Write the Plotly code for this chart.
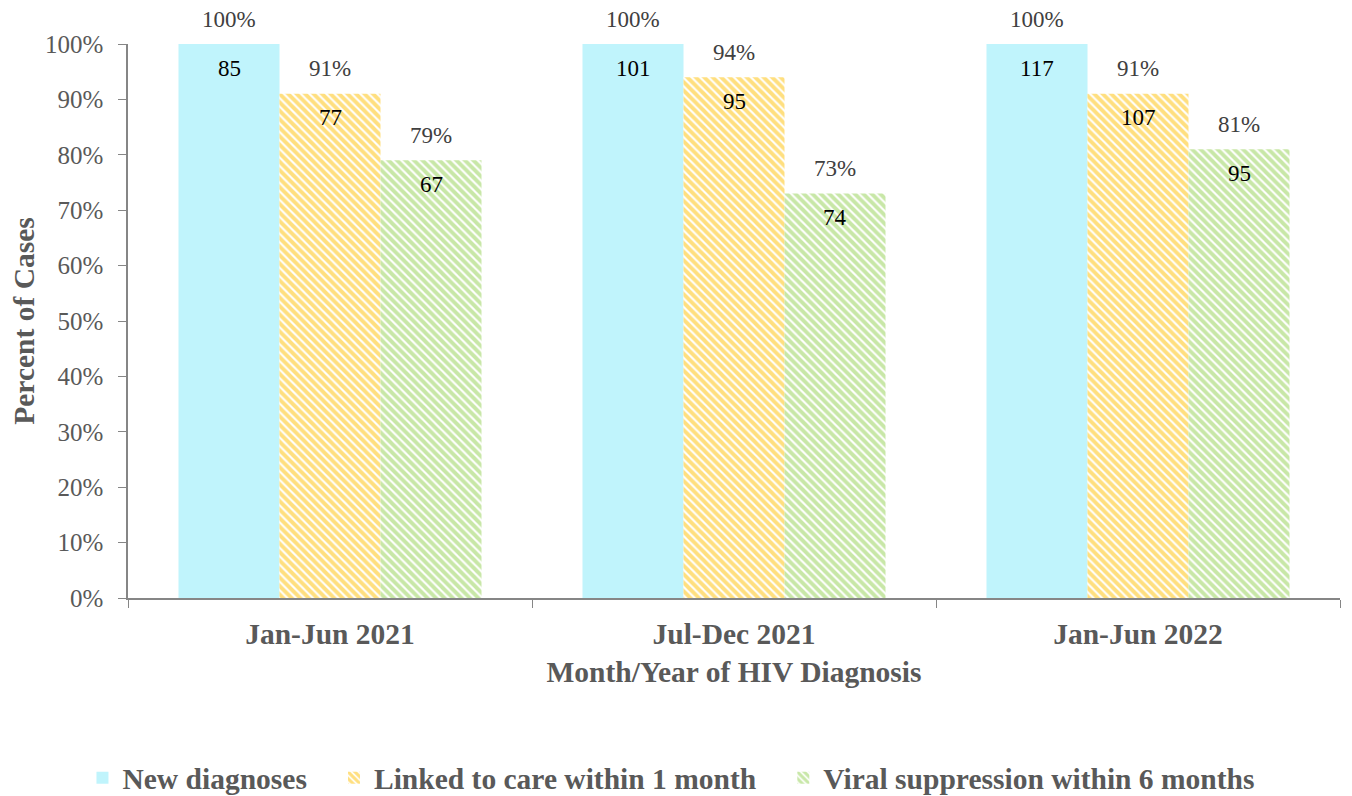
import plotly.graph_objects as go

categories = ["Jan-Jun 2021", "Jul-Dec 2021", "Jan-Jun 2022"]
series_names = ["New diagnoses", "Linked to care within 1 month", "Viral suppression within 6 months"]
pct_new = [100, 100, 100]
pct_linked = [91, 94, 91]
pct_viral = [79, 73, 81]
cnt_new = [85, 101, 117]
cnt_linked = [77, 95, 107]
cnt_viral = [67, 74, 95]
y_ticks = [0, 10, 20, 30, 40, 50, 60, 70, 80, 90, 100]
y_tick_labels = [f"{v}%" for v in y_ticks]

FONT = "Liberation Serif, Times New Roman, Times, serif"
GRAY = "#595959"
PAD = "\u00a0" * 3

fig = go.Figure()
fig.add_trace(go.Bar(name=series_names[0] + PAD, x=categories, y=pct_new,
                     marker=dict(color="#C0F4FC", line=dict(width=0))))
fig.add_trace(go.Bar(name=series_names[1] + PAD, x=categories, y=pct_linked,
                     marker=dict(color="white", line=dict(width=0),
                                 pattern=dict(shape="\\", fgcolor="#FFC000", bgcolor="white",
                                              size=6, solidity=0.65))))
fig.add_trace(go.Bar(name=series_names[2], x=categories, y=pct_viral,
                     marker=dict(color="white", line=dict(width=0),
                                 pattern=dict(shape="\\", fgcolor="#92D050", bgcolor="white",
                                              size=6, solidity=0.65))))

shifts = [-101, 0, 101]
annotations = []
for s, (pcts, cnts) in enumerate([(pct_new, cnt_new), (pct_linked, cnt_linked), (pct_viral, cnt_viral)]):
    for i, c in enumerate(categories):
        annotations.append(dict(x=c, y=pcts[i], xref="x", yref="y", text=f"{pcts[i]}%",
                                showarrow=False, xshift=shifts[s], yshift=25, yanchor="middle",
                                font=dict(family=FONT, size=23, color="#404040")))
        annotations.append(dict(x=c, y=pcts[i], xref="x", yref="y", text=str(cnts[i]),
                                showarrow=False, xshift=shifts[s], yshift=-24, yanchor="middle",
                                font=dict(family=FONT, size=23, color="black")))

fig.update_layout(
    width=1344, height=788,
    barmode="group", bargap=0.25, bargroupgap=0,
    plot_bgcolor="white", paper_bgcolor="white",
    margin=dict(l=120, r=12, t=36, b=198, autoexpand=False),
    font=dict(family=FONT, color=GRAY),
    annotations=annotations,
    legend=dict(orientation="h", x=0.448, xanchor="center", y=-0.325, yanchor="middle",
                font=dict(family=FONT, size=29.5, color=GRAY, weight="bold"),
                itemwidth=30, traceorder="normal"),
)
fig.update_yaxes(range=[0, 100], tickvals=y_ticks, ticktext=y_tick_labels,
                 showgrid=False, showline=True, linecolor="#868686", linewidth=1.5,
                 ticks="outside", ticklen=8, tickcolor="#868686", ticklabelstandoff=10,
                 tickfont=dict(family=FONT, size=25, color=GRAY),
                 title=dict(text="<b>Percent of Cases</b>", font=dict(family=FONT, size=29.5, color=GRAY), standoff=6))
fig.update_xaxes(showgrid=False, showline=True, linecolor="#868686", linewidth=1.5,
                 ticks="outside", ticklen=8, tickcolor="#868686", tickson="boundaries",
                 ticklabelstandoff=9,
                 tickfont=dict(family=FONT, size=29.5, color=GRAY, weight="bold"),
                 title=dict(text="<b>Month/Year of HIV Diagnosis</b>", font=dict(family=FONT, size=29.5, color=GRAY), standoff=12))

fig.write_html("out.html")
